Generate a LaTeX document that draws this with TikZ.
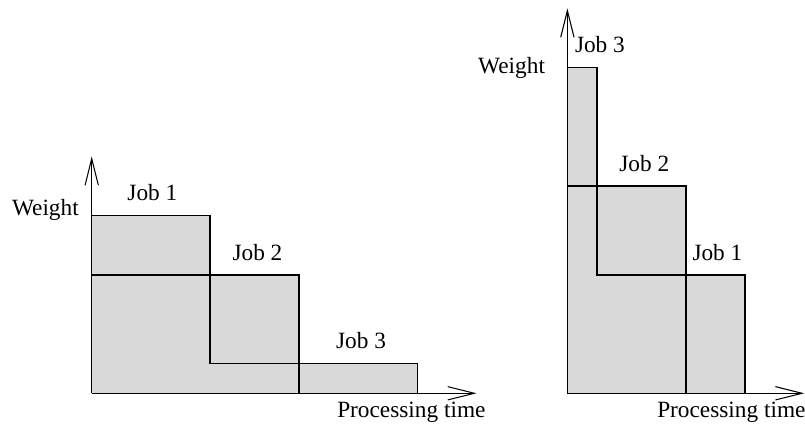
\documentclass[tikz,border=0pt]{standalone}
\usepackage{fontspec}
\setmainfont{Liberation Serif}
\usetikzlibrary{arrows.meta}

\begin{document}
\begin{tikzpicture}[
    area/.style={fill=black!15},
    job/.style={draw=black, line width=1.4pt},
    axis/.style={draw=black, line width=1pt,
                 -{Straight Barb[length=9mm, width=4.5mm, line width=1pt]}},
    lab/.style={font=\fontsize{22.4}{26}\selectfont, inner sep=0pt, anchor=base},
  ]
  \useasboundingbox (-3.098,-1.206) rectangle (24.098,13.287);

  % left: jobs in order 1, 2, 3
  \coordinate (lo) at (0,0);
  \coordinate (ly) at (0,8);
  \coordinate (lx) at (13,0);
  \fill[area] (0,0) -- (0,6) -- (4,6) -- (4,4) -- (7,4) -- (7,1) -- (11,1) -- (11,0) -- cycle;
  \draw[job] (0,4) rectangle (4,6);
  \draw[job] (4,1) rectangle (7,4);
  \draw[job] (7,0) rectangle (11,1);
  \draw[axis] (lo) -- (ly);
  \draw[axis] (lo) -- (lx);
  \node[lab] (ljob1) at (2.05,6.5) {Job 1};
  \node[lab] (ljob2) at (5.6,4.5) {Job 2};
  \node[lab] (ljob3) at (9.1,1.5) {Job 3};
  \node[lab, anchor=base east] (lweight) at (-0.43,6.02) {Weight};
  \node[lab, anchor=base east] (ltime) at (13.31,-0.83) {Processing time};

  % right: jobs in order 3, 2, 1
  \begin{scope}[xshift=16.07cm]
    \coordinate (ro) at (0,0);
    \coordinate (ry) at (0,13);
    \coordinate (rx) at (8,0);
    \fill[area] (0,0) -- (0,11) -- (1,11) -- (1,7) -- (4,7) -- (4,4) -- (6,4) -- (6,0) -- cycle;
    \draw[job] (0,7) rectangle (1,11);
    \draw[job] (1,4) rectangle (4,7);
    \draw[job] (4,0) rectangle (6,4);
    \draw[axis] (ro) -- (ry);
    \draw[axis] (ro) -- (rx);
    \node[lab] (rjob3) at (1.1,11.5) {Job 3};
    \node[lab] (rjob2) at (2.6,7.5) {Job 2};
    \node[lab] (rjob1) at (5.07,4.5) {Job 1};
    \node[lab, anchor=base east] (rweight) at (-0.75,10.79) {Weight};
    \node[lab, anchor=base west] (rtime) at (3.03,-0.83) {Processing time};
  \end{scope}
\end{tikzpicture}
\end{document}
